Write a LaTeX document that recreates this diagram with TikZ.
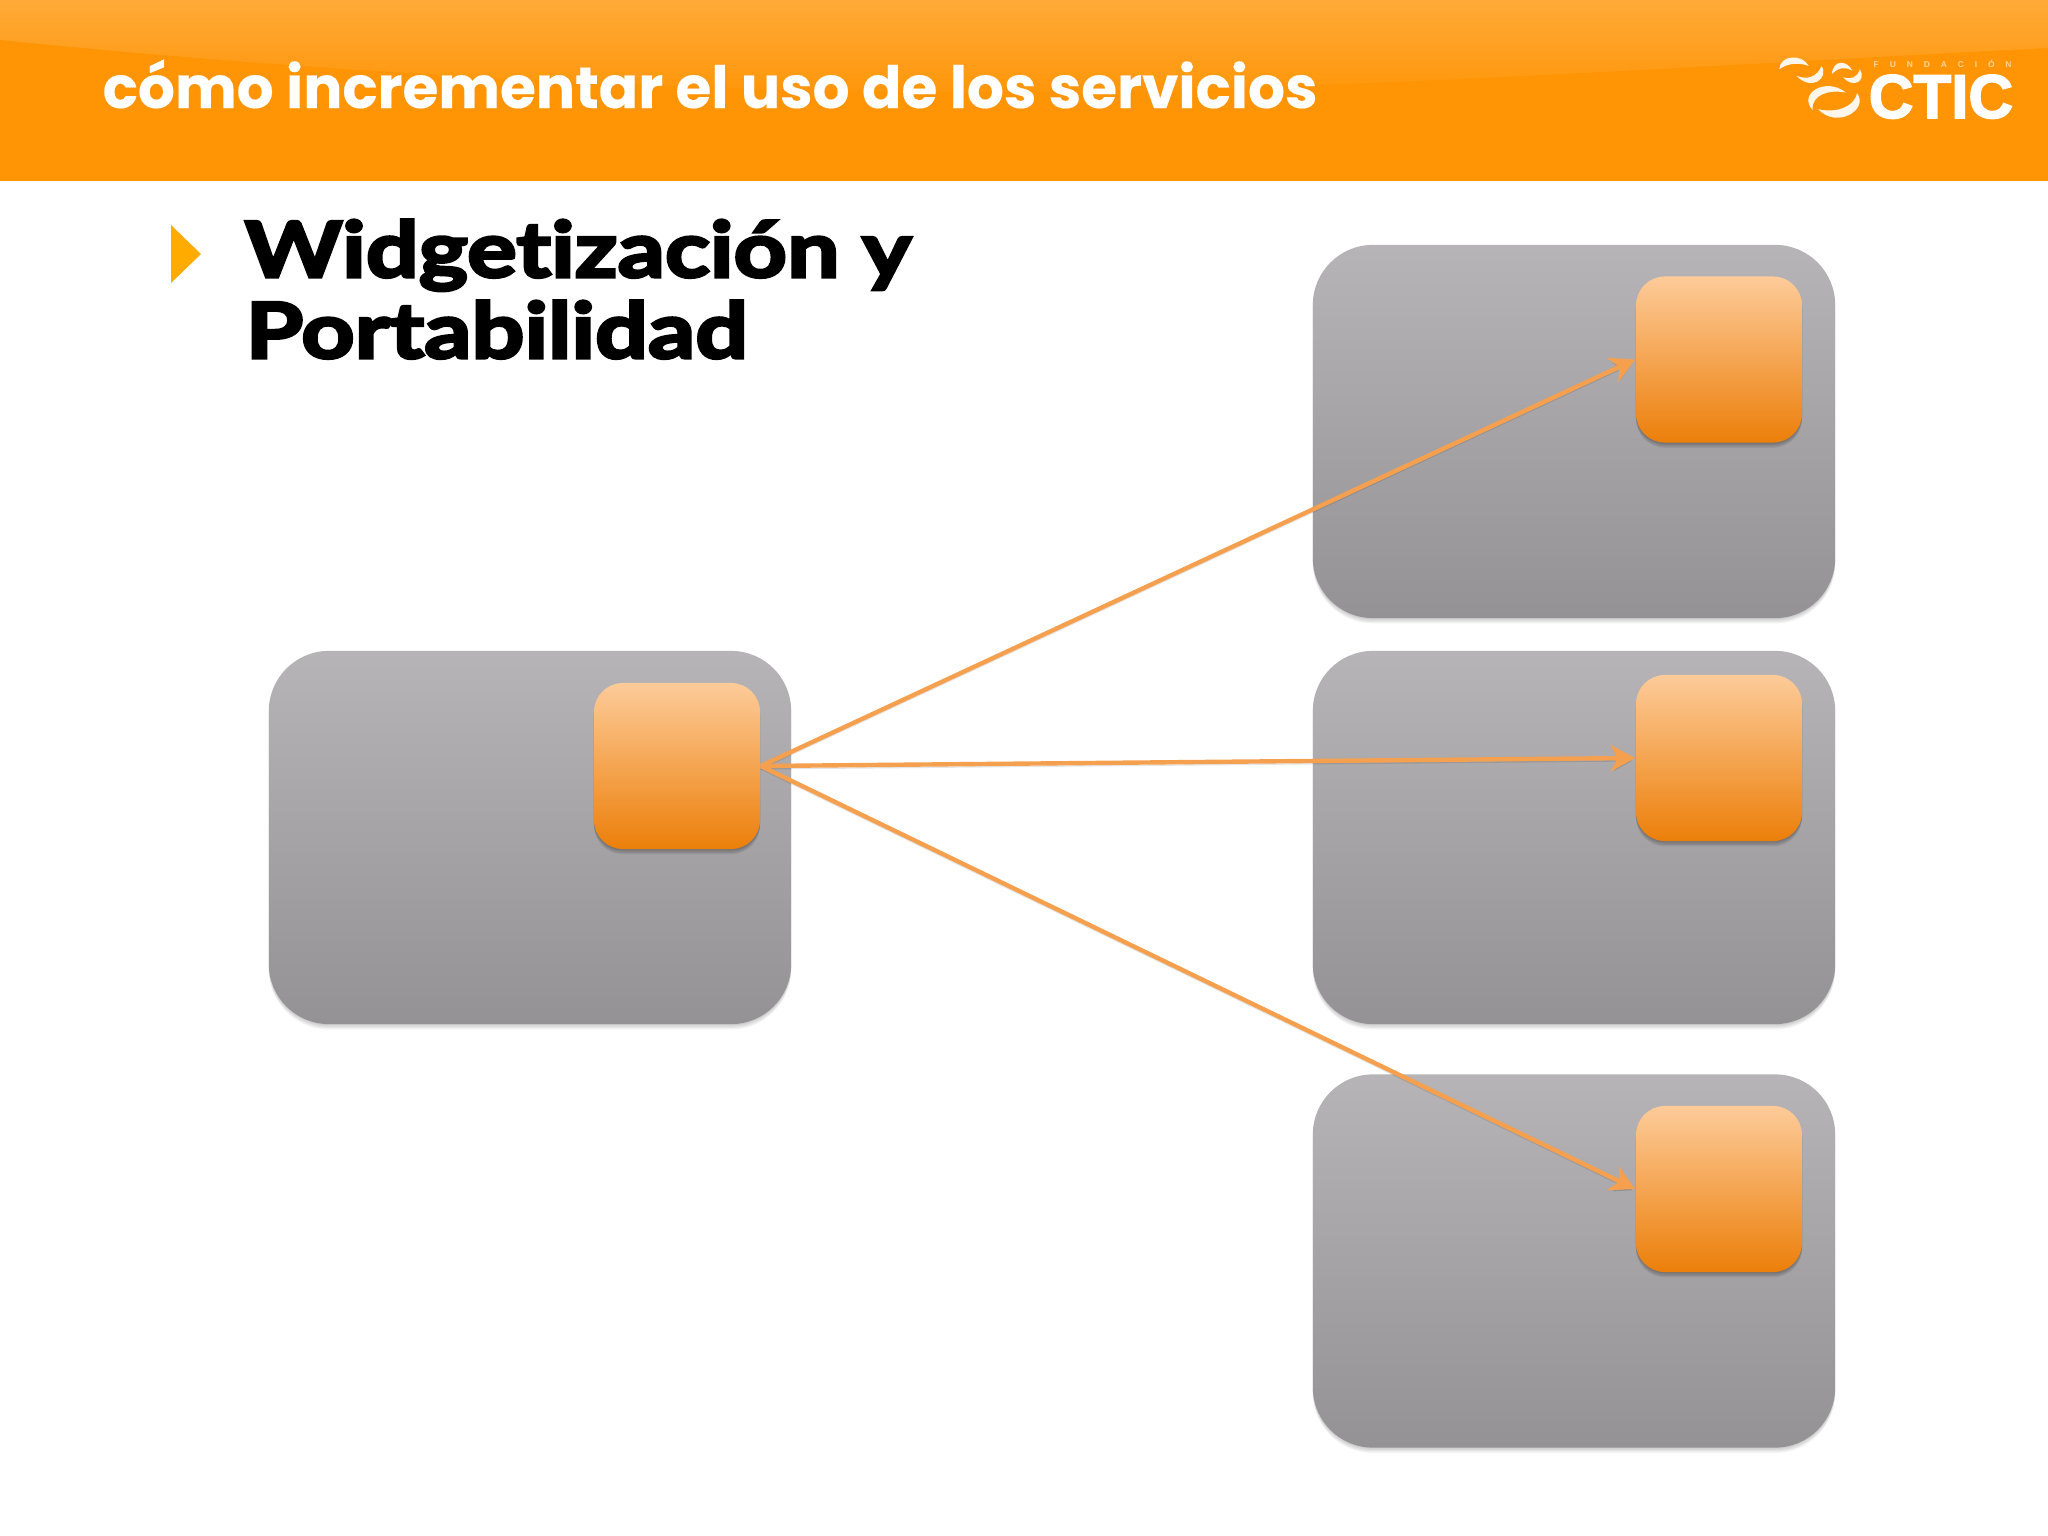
\documentclass[tikz,border=0pt]{standalone}
\usepackage{fontspec}
\usetikzlibrary{shadows,arrows.meta}
\setmainfont{Liberation Sans}
\newfontfamily\titlefont[BoldFeatures={FakeBold=0.2}]{Poppins}
\newfontfamily\headfont[Ligatures=NoCommon,BoldFeatures={FakeBold=4,FakeStretch=1.21}]{Lato}
\newfontfamily\logofont[BoldFeatures={FakeBold=2.5}]{Liberation Sans}
\definecolor{hdr}{HTML}{FF9405}
\definecolor{hdrlight}{HTML}{FFAA38}
\definecolor{link}{HTML}{F5A04F}
\definecolor{panetop}{HTML}{B6B4B6}
\definecolor{panebot}{HTML}{949295}
\definecolor{tiletop}{HTML}{FDCB99}
\definecolor{tilemid}{HTML}{F4A860}
\definecolor{tilebot}{HTML}{EC7F0A}
\definecolor{bullet}{HTML}{FFAB00}
\tikzset{
  softshadow/.style={
    drop shadow={shadow xshift=0pt,shadow yshift=-0.3pt,opacity=#1,fill=black},
    drop shadow={shadow xshift=0pt,shadow yshift=-0.7pt,opacity=#1,fill=black},
    drop shadow={shadow xshift=0pt,shadow yshift=-1.1pt,opacity=#1,fill=black},
    drop shadow={shadow xshift=0pt,shadow yshift=-1.5pt,opacity=#1,fill=black}},
  pane/.style={rectangle,rounded corners=0.6cm,inner sep=0,minimum width=5.22cm,minimum height=3.73cm,
    top color=panetop,bottom color=panebot,draw=none,softshadow=.05},
  tile/.style={rectangle,rounded corners=0.29cm,inner sep=0,minimum width=1.66cm,minimum height=1.66cm,
    top color=tiletop,middle color=tilemid,bottom color=tilebot,draw=none,softshadow=.08},
  linkline/.style={draw=link,line width=1.25pt,-{Stealth[length=7pt,width=7.5pt,inset=2pt]},
    preaction={draw=black,opacity=.1,transform canvas={yshift=-.8pt}}},
  hdrtext/.style={inner sep=0,anchor=base west,text=white},
  headtext/.style={inner sep=0,anchor=base west,text=black},
  logofill/.style={fill=white,draw=none,opacity=.92}
}
\begin{document}
\begin{tikzpicture}[x=0.01cm,y=-0.01cm]
\useasboundingbox (0,0) rectangle (2048,1536);
\fill[white] (0,0) rectangle (2048,1536);
% header band
\fill[hdr] (0,0) rectangle (2048,181);
\shade[top color=hdrlight,bottom color=hdr!92!hdrlight] (0,0) -- (2048,0) -- (2048,48)
  .. controls (1700,65) and (1300,95) .. (900,92)
  .. controls (500,85) and (200,60) .. (0,40) -- cycle;
\node[hdrtext,font=\titlefont\bfseries\fontsize{16.55pt}{20pt}\selectfont] (title) at (102,108) {cómo incrementar el uso de los servicios};
% logo
\begin{scope}[shift={(1740,30)},x=0.00333cm,y=-0.00333cm]
  \fill[logofill] (118,118) .. controls (120,75) and (185,70) .. (207,108) .. controls (180,98) and (145,98) .. (118,118) -- cycle;
  \fill[logofill] (170,138) .. controls (200,150) and (232,142) .. (245,108) .. controls (268,145) and (215,185) .. (170,138) -- cycle;
  \fill[logofill] (276,132) .. controls (280,88) and (322,90) .. (337,122) .. controls (315,110) and (297,112) .. (276,132) -- cycle;
  \fill[logofill] (310,142) .. controls (335,150) and (353,142) .. (360,118) .. controls (382,152) and (340,178) .. (310,142) -- cycle;
  \fill[logofill] (218,240) .. controls (172,190) and (260,140) .. (318,188) .. controls (265,178) and (215,195) .. (218,240) -- cycle;
  \fill[logofill] (235,238) .. controls (290,250) and (342,232) .. (352,190) .. controls (388,240) and (290,298) .. (235,238) -- cycle;
\end{scope}
\node[inner sep=0,anchor=base west,text=white,opacity=.6,font=\bfseries\fontsize{2.4pt}{3pt}\selectfont] (fund) at (1873,67)
  {F\hspace{3.1pt}U\hspace{3.1pt}N\hspace{3.1pt}D\hspace{3.1pt}A\hspace{3.1pt}C\hspace{3.1pt}I\hspace{3.1pt}Ó\hspace{3.1pt}N};
\node[inner sep=0,anchor=base west,text=white,font=\logofont\bfseries\fontsize{17.6pt}{18pt}\selectfont] (ctic) at (1868,118) {CTIC};
% bullet + heading
\fill[bullet] (171,225) -- (201,254) -- (171,283) -- cycle;
\node[headtext,font=\headfont\bfseries\fontsize{21.9pt}{24pt}\selectfont] (head1) at (244,277) {Widgetización y};
\node[headtext,font=\headfont\bfseries\fontsize{21.9pt}{24pt}\selectfont] (head2) at (245,358) {Portabilidad};
% panes
\node[pane] (p0) at (530,837.5) {};
\node[pane] (p1) at (1574,431.5) {};
\node[pane] (p2) at (1574,837.5) {};
\node[pane] (p3) at (1574,1261) {};
% tiles
\node[tile] (s) at (677,766) {};
\node[tile] (t1) at (1719,359.5) {};
\node[tile] (t2) at (1719,758) {};
\node[tile] (t3) at (1719,1189) {};
% connectors
\draw[linkline] (s.east) -- (t1.west);
\draw[linkline] (s.east) -- (t2.west);
\draw[linkline] (s.east) -- (t3.west);
\end{tikzpicture}
\end{document}
